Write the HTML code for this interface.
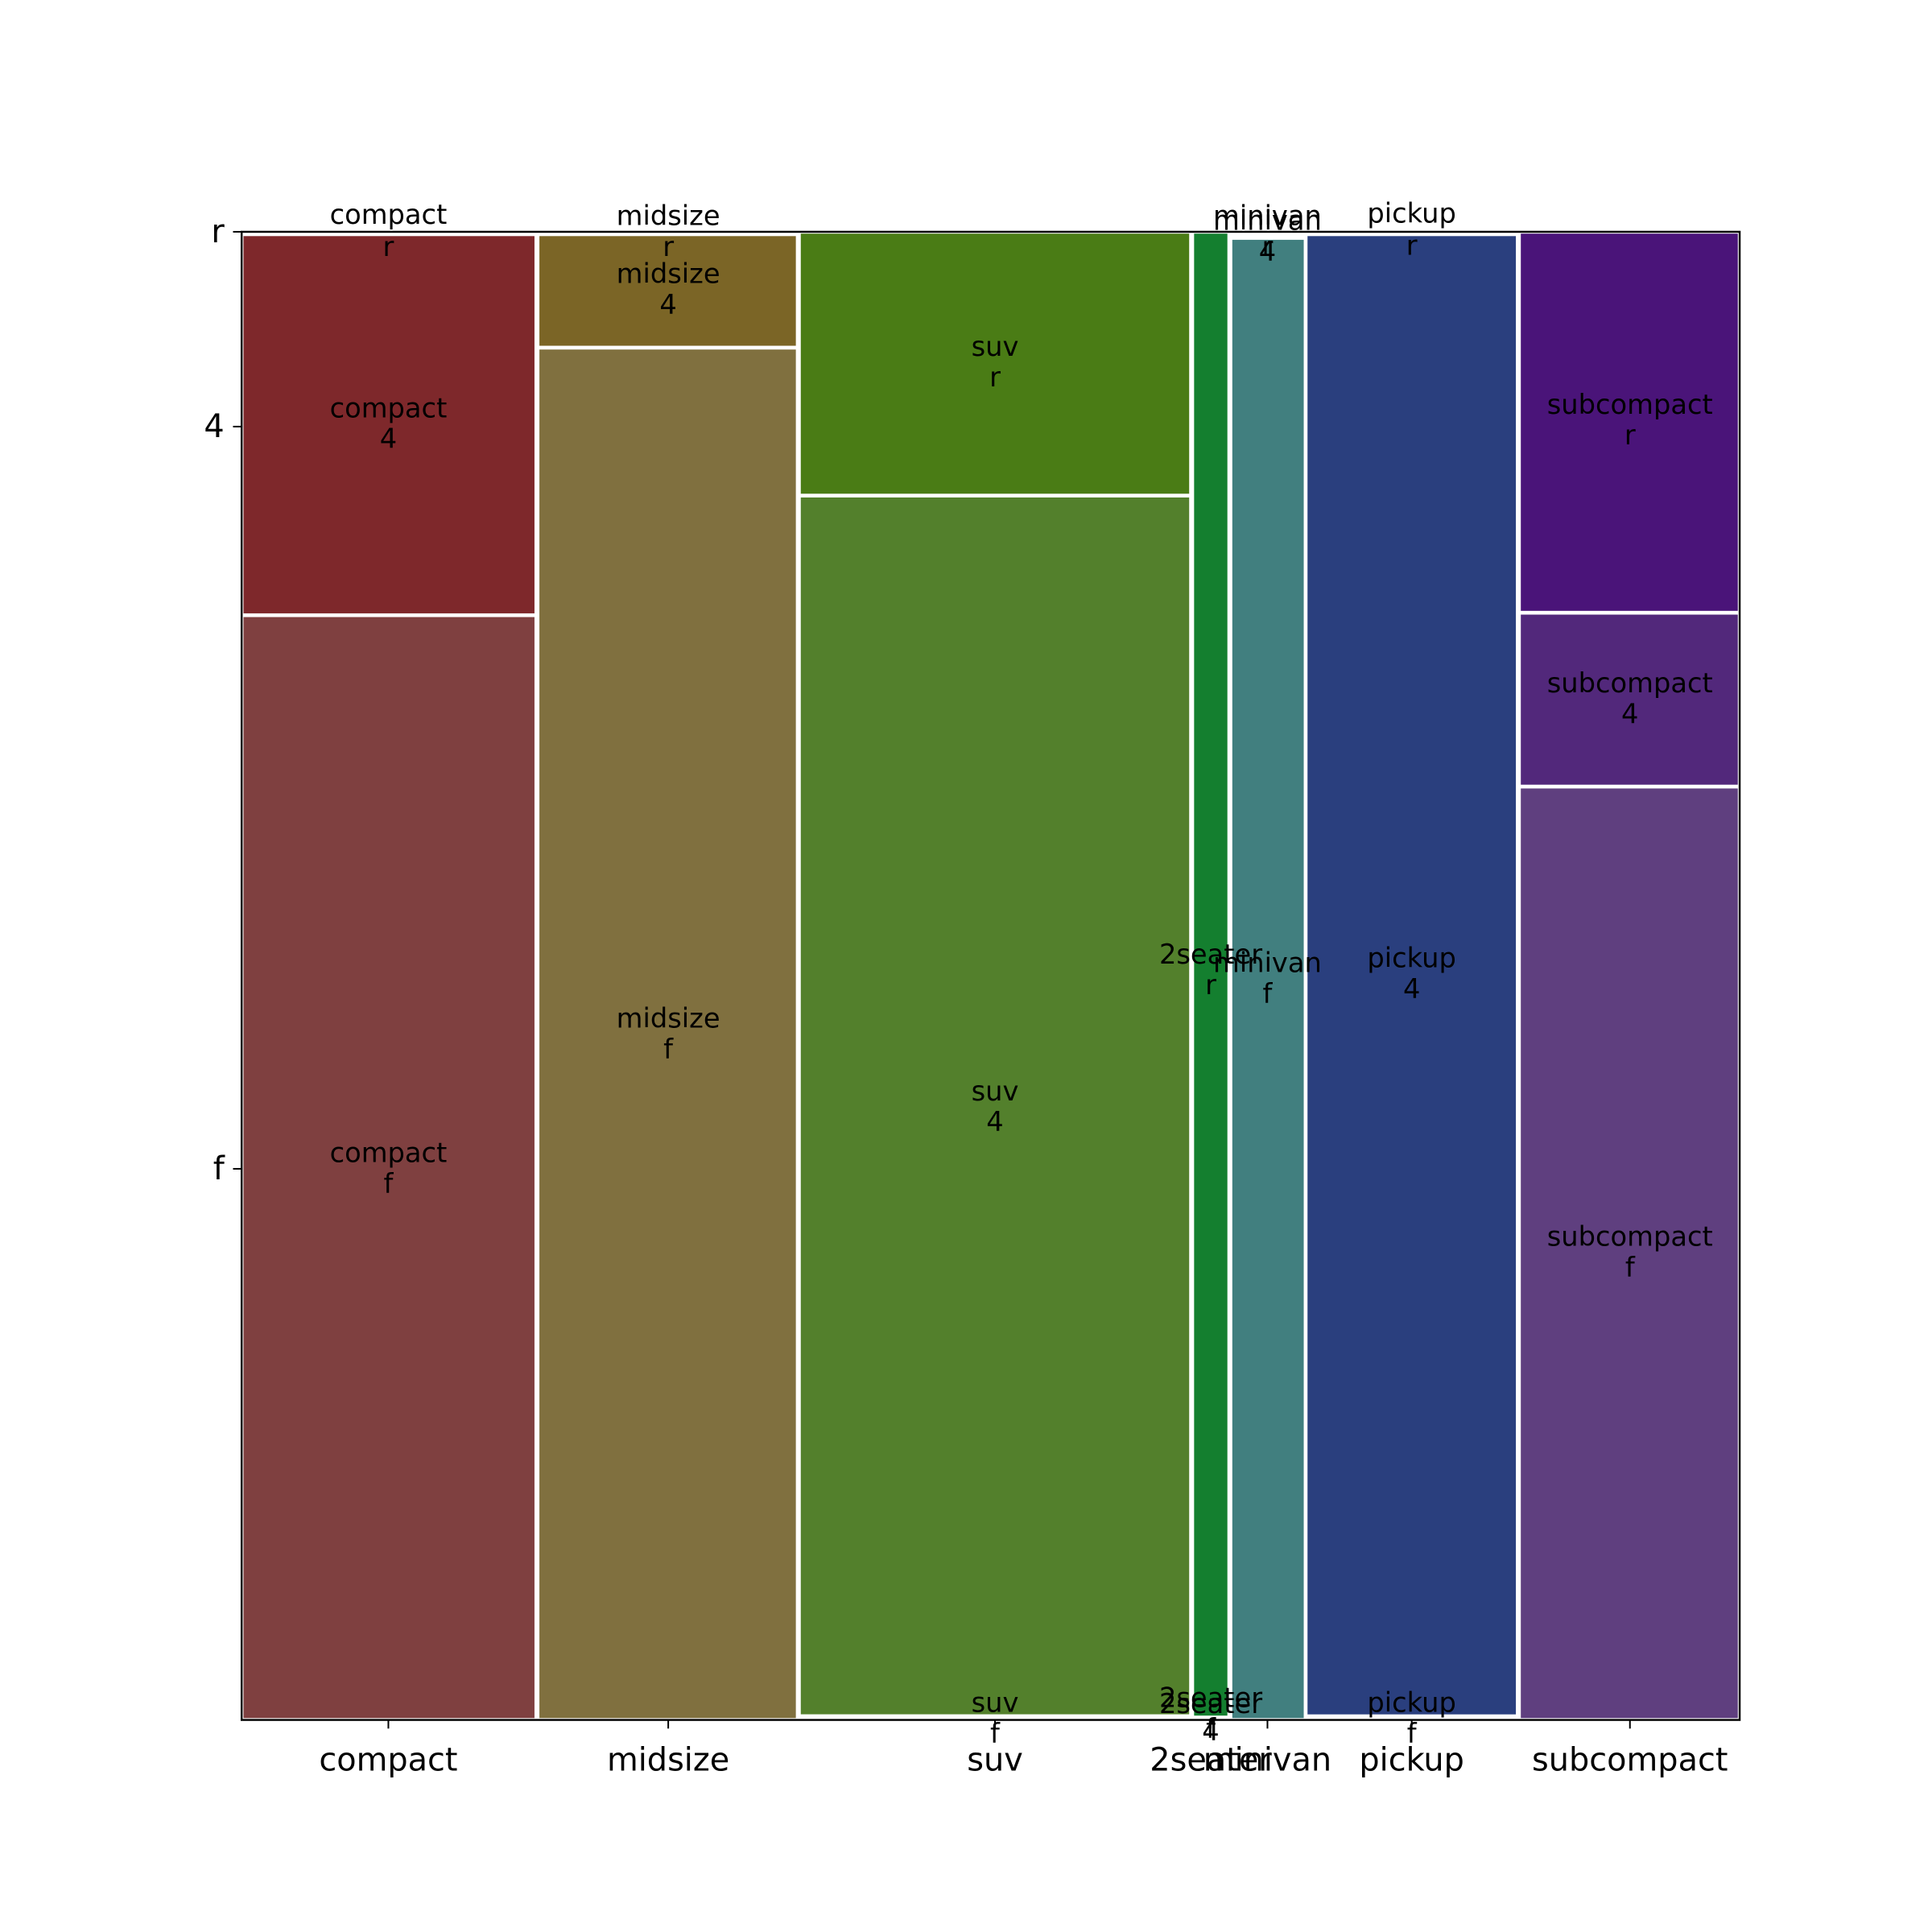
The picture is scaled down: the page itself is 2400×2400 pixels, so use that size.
<!DOCTYPE html>
<html><head><meta charset="utf-8"><style>html,body{margin:0;padding:0;background:#fff}svg{display:block}</style></head>
<body>
<svg width="2400" height="2400" viewBox="0 0 1567 1567" xmlns="http://www.w3.org/2000/svg" font-family="DejaVu Sans, Liberation Sans, sans-serif">
<rect width="1567" height="1567" fill="#fff"/>
<g stroke="#fff" stroke-width="3">
<rect x="196" y="188" width="239" height="3" fill="#7f2a2a"/>
<rect x="196" y="190" width="239" height="309" fill="#7e282b"/>
<rect x="196" y="499" width="239" height="896" fill="#7f4040"/>
<rect x="436" y="188" width="211" height="3" fill="#7d6628"/>
<rect x="436" y="190" width="211" height="92" fill="#7b6526"/>
<rect x="436" y="282" width="211" height="1113" fill="#80703f"/>
<rect x="648" y="188" width="318" height="214" fill="#4a7c15"/>
<rect x="648" y="402" width="318" height="990" fill="#53802c"/>
<rect x="648" y="1392" width="318" height="3" fill="#53802c"/>
<rect x="967" y="188" width="30" height="1205" fill="#147f2f"/>
<rect x="998" y="188" width="61" height="3" fill="#417f7f"/>
<rect x="998" y="193" width="61" height="1202" fill="#417f7f"/>
<rect x="1059" y="188" width="172" height="3" fill="#2a3f7e"/>
<rect x="1059" y="190" width="172" height="1202" fill="#2a3f7e"/>
<rect x="1232" y="188" width="179" height="309" fill="#4a1479"/>
<rect x="1232" y="497" width="179" height="141" fill="#52287b"/>
<rect x="1232" y="638" width="179" height="757" fill="#5f3f7f"/>
</g>
<rect x="196" y="188" width="1215" height="1207" fill="none" stroke="#000" stroke-width="1.6"/>
<g stroke="#000" stroke-width="1.3">
<line x1="189" y1="188" x2="196" y2="188"/><line x1="189" y1="346" x2="196" y2="346"/><line x1="189" y1="948" x2="196" y2="948"/>
<line x1="315" y1="1395" x2="315" y2="1402"/><line x1="542" y1="1395" x2="542" y2="1402"/><line x1="807" y1="1395" x2="807" y2="1402"/><line x1="982" y1="1395" x2="982" y2="1402"/><line x1="1028" y1="1395" x2="1028" y2="1402"/><line x1="1145" y1="1395" x2="1145" y2="1402"/><line x1="1322" y1="1395" x2="1322" y2="1402"/>
</g>
<g font-size="26" text-anchor="end" dominant-baseline="central">
<text x="182" y="188">r</text><text x="182" y="346">4</text><text x="182" y="948">f</text>
</g>
<g font-size="26" text-anchor="middle">
<text x="315" y="1436">compact</text><text x="542" y="1436">midsize</text><text x="807" y="1436">suv</text><text x="982" y="1436">2seater</text><text x="1028" y="1436">minivan</text><text x="1145" y="1436">pickup</text><text x="1322" y="1436">subcompact</text>
</g>
<g font-size="22" text-anchor="middle" dominant-baseline="central">
<text x="315" y="174">compact</text><text x="315" y="200">r</text>
<text x="315" y="331">compact</text><text x="315" y="356">4</text>
<text x="315" y="935">compact</text><text x="315" y="960">f</text>
<text x="542" y="175">midsize</text><text x="542" y="200">r</text>
<text x="542" y="222">midsize</text><text x="542" y="247">4</text>
<text x="542" y="826">midsize</text><text x="542" y="851">f</text>
<text x="807" y="281">suv</text><text x="807" y="306">r</text>
<text x="807" y="885">suv</text><text x="807" y="910">4</text>
<text x="807" y="1381">suv</text><text x="807" y="1406">f</text>
<text x="982" y="774">2seater</text><text x="982" y="799">r</text>
<text x="982" y="1377">2seater</text><text x="982" y="1402">f</text>
<text x="982" y="1382">2seater</text><text x="982" y="1404">4</text>
<text x="1028" y="175">minivan</text><text x="1028" y="200">r</text>
<text x="1028" y="179">minivan</text><text x="1028" y="204">4</text>
<text x="1028" y="781">minivan</text><text x="1028" y="806">f</text>
<text x="1145" y="173">pickup</text><text x="1145" y="199">r</text>
<text x="1145" y="777">pickup</text><text x="1145" y="802">4</text>
<text x="1145" y="1381">pickup</text><text x="1145" y="1406">f</text>
<text x="1322" y="328">subcompact</text><text x="1322" y="353">r</text>
<text x="1322" y="554">subcompact</text><text x="1322" y="579">4</text>
<text x="1322" y="1003">subcompact</text><text x="1322" y="1028">f</text>
</g>
</svg>
</body></html>
